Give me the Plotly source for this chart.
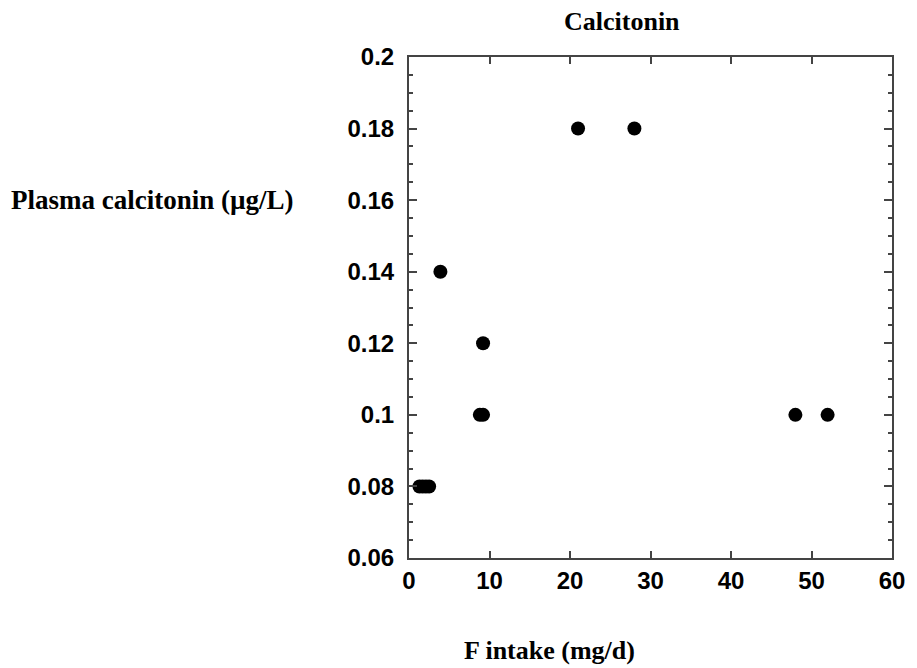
import plotly.graph_objects as go

# Data
f_intake = [1.3, 1.7, 2.1, 2.5, 3.9, 9.2, 8.8, 9.2, 21.0, 28.0, 48.0, 52.0]
calcitonin = [0.08, 0.08, 0.08, 0.08, 0.14, 0.12, 0.10, 0.10, 0.18, 0.18, 0.10, 0.10]

x_ticks = [0, 10, 20, 30, 40, 50, 60]
x_labels = ["0", "10", "20", "30", "40", "50", "60"]
y_ticks = [0.06, 0.08, 0.10, 0.12, 0.14, 0.16, 0.18, 0.20]
y_labels = ["0.06", "0.08", "0.1", "0.12", "0.14", "0.16", "0.18", "0.2"]

title_text = "Calcitonin"
x_title = "F intake (mg/d)"
y_title = "Plasma calcitonin (µg/L)"

fig = go.Figure()
fig.add_trace(go.Scatter(
    x=f_intake, y=calcitonin, mode="markers",
    marker=dict(color="black", size=14, line=dict(width=0)),
    showlegend=False, cliponaxis=False,
))

axis_color = "#444444"
tickfont = dict(family="Liberation Sans, Arial, sans-serif", size=24, color="black", weight="bold")

fig.update_xaxes(
    range=[0, 60], tickvals=x_ticks, ticktext=x_labels,
    ticks="inside", ticklen=7, tickwidth=1.5, tickcolor=axis_color,
    showline=True, linecolor=axis_color, linewidth=2, mirror="ticks",
    showgrid=False, zeroline=False, tickfont=tickfont,
)
fig.update_yaxes(
    range=[0.06, 0.2], tickvals=y_ticks, ticktext=y_labels,
    ticks="inside", ticklen=8, tickwidth=1.5, tickcolor=axis_color,
    minor=dict(dtick=0.005, tick0=0.06, ticks="inside", ticklen=4, tickwidth=1.5,
               tickcolor=axis_color, showgrid=False),
    showline=True, linecolor=axis_color, linewidth=2, mirror="ticks",
    showgrid=False, zeroline=False, tickfont=tickfont, ticklabelstandoff=8,
)

serif = dict(family="Liberation Serif, Times New Roman, serif", size=26, color="black", weight="bold")
serif_y = dict(serif, size=27)

L, T, PW, PH = 409, 57, 490, 501

def px(x):
    return (x - L) / PW

def py(y):
    return (T + PH - y) / PH

fig.update_layout(
    width=917, height=668,
    margin=dict(l=L, r=917 - L - PW, t=T, b=668 - T - PH),
    plot_bgcolor="white", paper_bgcolor="white",
    annotations=[
        dict(text=title_text, xref="paper", yref="paper", x=px(625), y=py(22),
             xanchor="center", yanchor="middle", showarrow=False, font=serif),
        dict(text=y_title, xref="paper", yref="paper", x=px(3), y=py(200),
             xanchor="left", yanchor="middle", showarrow=False, font=serif_y),
        dict(text=x_title, xref="paper", yref="paper", x=px(640), y=py(650),
             xanchor="right", yanchor="middle", showarrow=False, font=serif),
    ],
)

fig.write_html("out.html")
